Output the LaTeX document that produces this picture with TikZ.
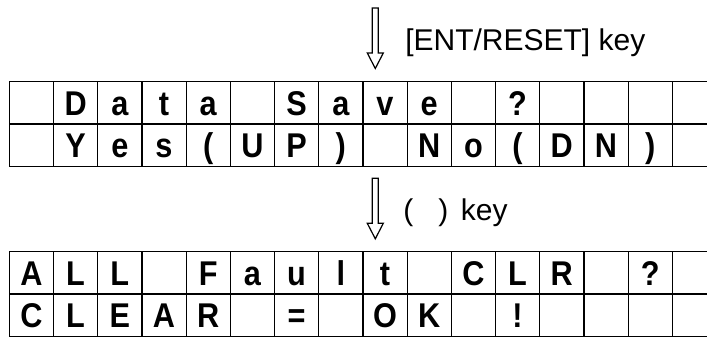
\documentclass[tikz,border=0pt]{standalone}
\usepackage{fontspec}
\setmainfont{Liberation Sans}
\newcommand{\tallch}[1]{\scalebox{1}[1.12]{#1}}
\begin{document}
\begin{tikzpicture}[x=0.75pt,y=-0.75pt,
  cell/.style={draw, line width=0.9pt, minimum width=33.15pt, minimum height=31.65pt,
    inner sep=0pt, outer sep=0pt, font=\fontsize{23}{23}\selectfont\bfseries,
    text height=18.4pt, text depth=0pt, anchor=north west},
  lbl/.style={font=\fontsize{22.5}{22.5}\selectfont, anchor=base west, inner sep=0pt},
  blockarrow/.style={draw, line width=0.9pt, fill=white, line join=miter}]
\useasboundingbox (0,0) rectangle (707,336);
\clip (0,0) rectangle (707,336);
% table A
\foreach \ch [count=\c] in {{},D,a,t,a,{},S,a,v,e,{},?,{},{},{},{}}
  \node[cell] (a1-\c) at ({9.3+44.2*(\c-1)},81.7) {\tallch{\ch}};
\foreach \ch [count=\c] in {{},Y,e,s,{(},U,P,{)},{},N,o,{(},D,N,{)},{}}
  \node[cell] (a2-\c) at ({9.3+44.2*(\c-1)},123.9) {\tallch{\ch}};
% table B
\foreach \ch [count=\c] in {A,L,L,{},F,a,u,l,t,{},C,L,R,{},?,{}}
  \node[cell] (b1-\c) at ({9.3+44.2*(\c-1)},251.7) {\tallch{\ch}};
\foreach \ch [count=\c] in {C,L,E,A,R,{},=,{},O,K,{},!,{},{},{},{}}
  \node[cell] (b2-\c) at ({9.3+44.2*(\c-1)},294) {\tallch{\ch}};
% arrows
\coordinate (k1) at (375.3,8);
\coordinate (k2) at (375.3,178.3);
\draw[blockarrow, shift={(k1)}] (-3,0) -- (3,0) -- (3,45) -- (8,45) -- (0,60.5) -- (-8,45) -- (-3,45) -- cycle;
\draw[blockarrow, shift={(k2)}] (-3,0) -- (3,0) -- (3,45) -- (8,45) -- (0,60.5) -- (-8,45) -- (-3,45) -- cycle;
% labels
\node[lbl] (l1) at (405,50) {[ENT/RESET] key};
\node[lbl] (l2) at (403,220) {(\hspace{18.75pt})\hspace{9.5pt}key};
\end{tikzpicture}
\end{document}
